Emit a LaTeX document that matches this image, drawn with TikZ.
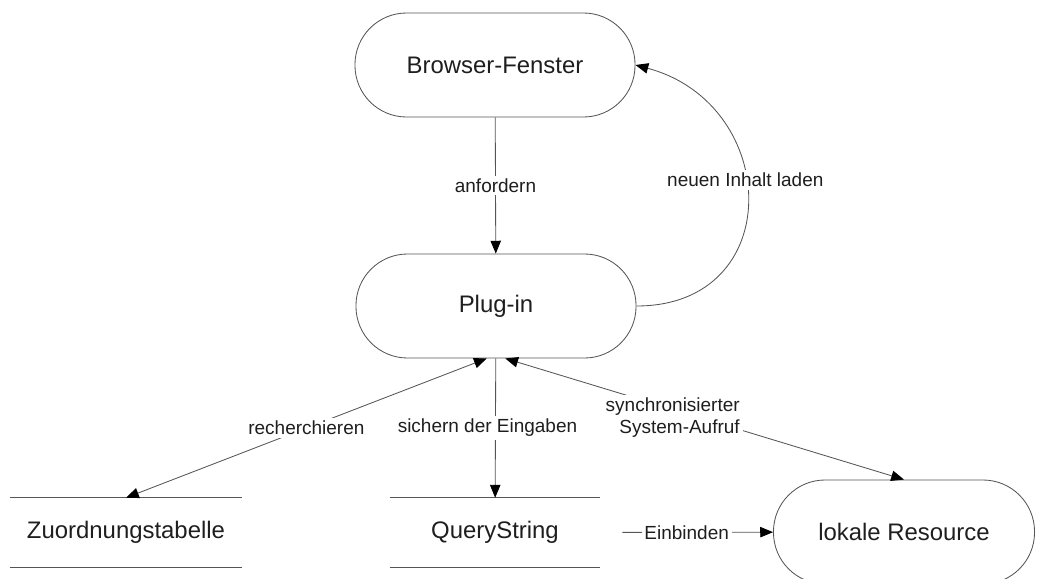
\documentclass[tikz,border=0pt]{standalone}
\usepackage{fontspec}
\setmainfont{Liberation Sans}
\usepackage{tikz}
\usetikzlibrary{calc, arrows.meta, positioning}
\definecolor{linegray}{RGB}{85, 85, 85}
\definecolor{textgray}{RGB}{30, 30, 30}
\newcommand{\boxfont}{\fontsize{17}{20}\selectfont}
\newcommand{\lblfont}{\fontsize{13.5}{15.5}\selectfont}

\begin{document}
\begin{tikzpicture}[x=0.025cm, y=-0.025cm,
    stadium/.style={draw=linegray, line width=0.6pt, rounded corners=1.29cm, minimum height=2.6cm, text=textgray, font=\boxfont},
    store/.style={text=textgray, font=\boxfont, minimum height=1.725cm},
    tip/.tip={Triangle[length=0.32cm, width=0.26cm, color=black]},
    conn/.style={draw=linegray, line width=0.6pt, -tip},
    both/.style={draw=linegray, line width=0.6pt, tip-tip},
    lbl/.style={fill=white, text=textgray, font=\lblfont, inner sep=2pt}]
    \useasboundingbox (0,0) rectangle (1040,579);
    % Prozesse
    \node[stadium, minimum width=7cm] (browser) at (495, 65) {Browser-Fenster};
    \node[stadium, minimum width=7cm] (plugin) at (496, 306) {Plug-in};
    \node[stadium, minimum width=6.525cm] (resource) at (904, 532) {lokale Resource};
    % Datenspeicher
    \node[store, minimum width=5.8cm] (table) at (126, 532.5) {Zuordnungstabelle};
    \node[store, minimum width=5.25cm] (query) at (495, 532.5) {QueryString};
    \foreach \s in {table, query} {
        \draw[linegray, line width=0.6pt] (\s.north west) -- (\s.north east);
        \draw[linegray, line width=0.6pt] (\s.south west) -- (\s.south east);
    }
    % Verbindungen
    \draw[conn] (browser) -- node[lbl] {anfordern} (plugin);
    \draw[conn] (plugin.east) to[out=0, in=-15, looseness=1.6] node[lbl, pos=0.56] {neuen Inhalt laden} (browser.east);
    \draw[both] (plugin.-100) -- node[lbl] {recherchieren} (table.north);
    \draw[conn] (plugin) -- node[lbl, xshift=-0.2cm] {sichern der Eingaben} (query);
    \draw[both] (plugin.-80) -- node[lbl, align=right, pos=0.42, yshift=-0.2cm] {synchronisierter\\System-Aufruf} (resource.north);
    \draw[conn, shorten <=0.55cm] (query) -- node[lbl] {Einbinden} (resource);
\end{tikzpicture}
\end{document}
